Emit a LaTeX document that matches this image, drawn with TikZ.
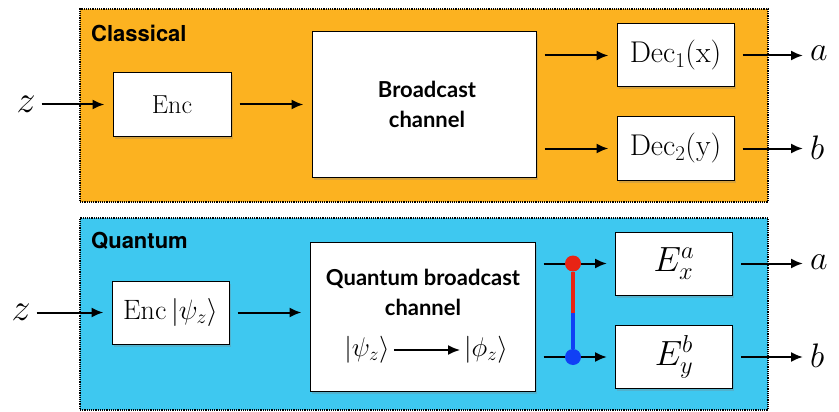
\RequirePackage{fix-cm}
\documentclass[tikz,border=0pt]{standalone}
\usepackage{amsmath,amssymb}
\usepackage{fontspec}
\newfontfamily\headfont{TeX Gyre Heros}
\newfontfamily\chanfont{Lato}
\usepackage{xcolor}
\usepackage{tikz}
\usetikzlibrary{arrows.meta,shadows}

\definecolor{classorange}{RGB}{252,178,32}
\definecolor{quantblue}{RGB}{62,200,240}
\definecolor{dotred}{RGB}{232,36,20}
\definecolor{dotblue}{RGB}{16,64,245}

\begin{document}
\begin{tikzpicture}[x=1pt, y=-1pt, >={Latex[length=12pt,width=10pt]},
    flow/.style={->, line width=2pt, shorten <=8pt, shorten >=8pt},
    frame/.style={draw, densely dotted, line width=1.2pt, inner sep=0pt, minimum width=688pt},
    block/.style={draw, fill=white, line width=1pt, inner sep=0pt,
      drop shadow={opacity=0.3, shadow xshift=1.5pt, shadow yshift=-2.5pt}},
    small/.style={block, minimum width=117pt, minimum height=63pt},
    head/.style={anchor=west, inner sep=0pt, font=\headfont\bfseries\fontsize{22}{26}\selectfont},
    chan/.style={align=center, inner sep=0pt, font=\chanfont\bfseries\fontsize{22}{30}\selectfont},
    io/.style={inner sep=0pt, font=\fontsize{34}{38}\selectfont},
    dot/.style={circle, inner sep=0pt, minimum size=16pt}]

  \useasboundingbox (0,0) rectangle (839,412);

  % classical part
  \node[frame, fill=classorange, minimum height=193pt] (cframe) at (424,105.5) {};
  \node[head] (chead) at (91,33) {Classical};
  \node[io, font=\fontsize{38}{40}\selectfont] (zc) at (26,104.5) {$z$};
  \node[block, minimum width=118pt, minimum height=63pt, font=\fontsize{26}{30}\selectfont] (encc) at (172,104.5) {$\mathrm{Enc}$};
  \node[block, minimum width=224pt, minimum height=145pt] (bcc) at (424,104.5) {};
  \node[chan] (bctext) at (427,104.5) {Broadcast\\channel};
  \node[small, font=\fontsize{30}{34}\selectfont] (dec1) at (675.5,55.5) {$\mathrm{Dec}_1(\mathrm{x})$};
  \node[small, font=\fontsize{30}{34}\selectfont] (dec2) at (675.5,148.5) {$\mathrm{Dec}_2(\mathrm{y})$};
  \node[io, anchor=west] (ac) at (810,53) {$a$};
  \node[io, anchor=west] (bc) at (810,148) {$b$};

  \draw[flow, shorten <=6pt] (zc) -- (encc);
  \draw[flow] (encc) -- (bcc);
  \draw[flow] (bcc.east |- dec1) -- (dec1);
  \draw[flow] (bcc.east |- dec2) -- (dec2);
  \draw[flow, shorten >=7pt] (dec1) -- (dec1 -| ac.west);
  \draw[flow, shorten >=7pt] (dec2) -- (dec2 -| bc.west);

  % quantum part
  \node[frame, fill=quantblue, minimum height=192pt] (qframe) at (424,314) {};
  \node[head] (qhead) at (91,241) {Quantum};
  \node[io, font=\fontsize{38}{40}\selectfont] (zq) at (21,312.5) {$z$};
  \node[block, minimum width=117pt, minimum height=63pt, font=\fontsize{28}{32}\selectfont] (encq) at (170.5,312.5) {$\mathrm{Enc}\,\lvert\psi_z\rangle$};
  \node[block, minimum width=225pt, minimum height=149pt] (qbc) at (422.5,316.5) {};
  \node[chan] (qbtext) at (423,292.5) {Quantum broadcast\\channel};
  \node[inner sep=0pt, font=\fontsize{27}{30}\selectfont] (psi) at (367,350) {$\lvert\psi_z\rangle$};
  \node[inner sep=0pt, font=\fontsize{27}{30}\selectfont] (phi) at (486,350) {$\lvert\phi_z\rangle$};
  \node[small, font=\fontsize{35}{38}\selectfont] (ex) at (674,263.5) {$E_x^a$};
  \node[small, font=\fontsize{35}{38}\selectfont] (ey) at (674,357) {$E_y^b$};
  \node[io, anchor=west] (aq) at (810,262) {$a$};
  \node[io, anchor=west] (bq) at (810,356) {$b$};

  \draw[flow, shorten <=6pt] (zq) -- (encq);
  \draw[flow, shorten <=8pt, shorten >=8pt] (encq.east) -- (encq -| qbc.west);
  \draw[->, line width=1.6pt, shorten <=4pt, shorten >=4pt] (psi) -- (phi);
  \draw[flow] (qbc.east |- ex) -- (ex);
  \draw[flow] (qbc.east |- ey) -- (ey);
  \draw[flow, shorten >=7pt] (ex) -- (ex -| aq.west);
  \draw[flow, shorten >=7pt] (ey) -- (ey -| bq.west);

  % entangled pair
  \coordinate (mid) at (573,313);
  \node[dot, fill=dotred] (da) at (573,263.5) {};
  \node[dot, fill=dotblue] (db) at (573,357) {};
  \draw[dotred, line width=4pt] (da) -- (mid);
  \draw[dotblue, line width=4pt] (mid) -- (db);
\end{tikzpicture}
\end{document}
